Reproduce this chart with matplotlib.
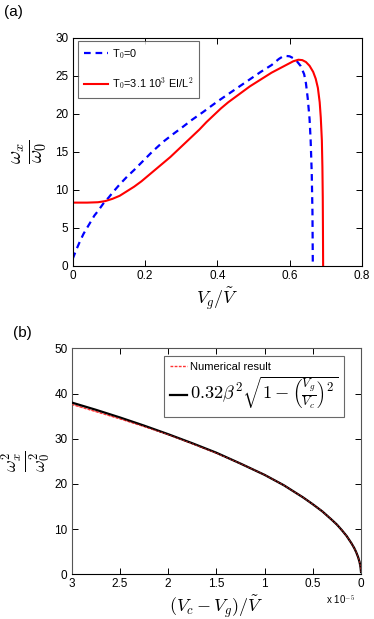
import matplotlib
matplotlib.use("Agg")
import matplotlib.pyplot as plt

plt.rcParams['font.family'] = ['Liberation Sans', 'DejaVu Sans']
plt.rcParams['mathtext.fontset'] = 'cm'

# ---- Panel (a) data ----
vg_blue = [0.0, 0.01, 0.02, 0.03, 0.04, 0.05, 0.06, 0.07, 0.085, 0.10, 0.11, 0.13, 0.15, 0.17,
           0.195, 0.22, 0.25, 0.28, 0.30, 0.33, 0.36, 0.40, 0.44, 0.48, 0.52, 0.55,
           0.57, 0.58, 0.59, 0.60, 0.61, 0.62, 0.63, 0.64, 0.645, 0.65, 0.655, 0.658,
           0.661, 0.663, 0.664]
w_blue = [0.9, 2.1, 3.2, 4.2, 5.0, 5.8, 6.6, 7.2, 8.2, 9.0, 9.6, 10.7, 11.7, 12.6,
          13.8, 15.0, 16.3, 17.4, 18.1, 19.2, 20.2, 21.6, 22.9, 24.2, 25.5, 26.4,
          27.2, 27.5, 27.6, 27.55, 27.3, 26.9, 26.3, 25.2, 24.0, 22.0, 19.3, 16.5,
          12.2, 7.0, 0.0]

vg_red = [0.0, 0.04, 0.07, 0.09, 0.11, 0.13, 0.15, 0.17, 0.19, 0.21, 0.23, 0.25, 0.27,
          0.29, 0.31, 0.33, 0.35, 0.37, 0.39, 0.41, 0.43, 0.45, 0.47, 0.49, 0.51, 0.53,
          0.55, 0.57, 0.59, 0.61, 0.624, 0.635, 0.645, 0.655, 0.665, 0.672, 0.678,
          0.683, 0.686, 0.689, 0.6905, 0.6915, 0.692, 0.6925]
w_red = [8.3, 8.3, 8.35, 8.5, 8.8, 9.2, 9.8, 10.4, 11.1, 11.9, 12.7, 13.5, 14.3,
         15.2, 16.1, 17.0, 17.9, 18.9, 19.8, 20.7, 21.5, 22.2, 22.9, 23.6, 24.2, 24.8,
         25.4, 25.9, 26.4, 26.9, 27.1, 27.05, 26.8, 26.3, 25.5, 24.6, 23.4,
         21.5, 19.5, 16.5, 13.0, 9.0, 5.0, 0.0]

# ---- Panel (b) data (x in units of 1e-5) ----
dv = [3.0, 2.75, 2.5, 2.25, 2.0, 1.75, 1.5, 1.25, 1.0, 0.8, 0.6, 0.5, 0.4, 0.3, 0.25,
      0.2, 0.15, 0.1, 0.07, 0.05, 0.03, 0.015, 0.005, 0.0]
w2_fit = [38.0, 36.4, 34.7, 32.9, 31.0, 29.0, 26.9, 24.5, 22.0, 19.7, 17.0, 15.5, 13.9,
          12.0, 11.0, 9.8, 8.5, 6.9, 5.8, 4.9, 3.8, 2.7, 1.6, 0.5]
w2_num = [37.6, 36.0, 34.4, 32.7, 30.9, 28.9, 26.8, 24.5, 22.0, 19.7, 17.0, 15.5, 13.9,
          12.0, 11.0, 9.8, 8.5, 6.9, 5.8, 4.9, 3.8, 2.7, 1.6, 0.5]

W, H = 374, 619
fig = plt.figure(figsize=(W / 100, H / 100), dpi=100)

def box(l, t, r, b):
    return [l / W, 1 - b / H, (r - l) / W, (b - t) / H]

# ---------- (a) ----------
ax1 = fig.add_axes(box(72.7, 37.7, 362, 265.7))
l1, = ax1.plot(vg_blue, w_blue, color='#0000ff', ls=(0, (3, 2.2)), lw=1.6)
l2, = ax1.plot(vg_red, w_red, color='#ff0000', ls='-', lw=1.5)
ax1.set_xlim(0, 0.8)
ax1.set_ylim(0, 30)
ax1.set_xticks([0, 0.2, 0.4, 0.6, 0.8])
ax1.set_xticklabels(['0', '0.2', '0.4', '0.6', '0.8'])
ax1.set_yticks([0, 5, 10, 15, 20, 25, 30])
ax1.tick_params(direction='in', top=True, right=True, labelsize=8.5, length=4, width=0.7, pad=3)
ax1.set_xlabel(r'$V_g/\tilde{V}$', fontsize=13, labelpad=3)
ax1.set_ylabel(r'$\frac{\omega_x}{\omega_0}$', fontsize=21, labelpad=5)
leg1 = ax1.legend([l1, l2], [r'T$_0$=0', r'T$_0$=3.1 10$^3$ EI/L$^2$'],
                  loc='upper left', bbox_to_anchor=(0.018, 0.985), fontsize=7.8,
                  frameon=True, fancybox=False, edgecolor='#444444', handlelength=2.2,
                  borderpad=0.55, labelspacing=1.4, handletextpad=0.4, borderaxespad=0)
leg1.get_frame().set_linewidth(0.8)
for s in ax1.spines.values():
    s.set_linewidth(0.8)
fig.text(4 / W, 1 - 12 / H, '(a)', fontsize=11, va='center', ha='left')

# ---------- (b) ----------
ax2 = fig.add_axes(box(71.7, 348.3, 361, 574.3))
n1, = ax2.plot(dv, w2_num, color='#ff3333', ls=(0, (2, 1)), lw=1.0, zorder=2)
n2, = ax2.plot(dv, w2_fit, color='black', ls='-', lw=1.6, zorder=3)
ax2.plot(dv, w2_num, color='#ff3333', ls=(0, (2, 1)), lw=0.8, zorder=4, alpha=0.6)
ax2.set_xlim(3, 0)
ax2.set_ylim(0, 50)
ax2.set_xticks([3, 2.5, 2, 1.5, 1, 0.5, 0])
ax2.set_xticklabels(['3', '2.5', '2', '1.5', '1', '0.5', '0'])
ax2.set_yticks([0, 10, 20, 30, 40, 50])
ax2.tick_params(direction='in', top=True, right=True, labelsize=8.5, length=4, width=0.7, pad=3)
ax2.set_xlabel(r'$(V_c-V_g)/\tilde{V}$', fontsize=13, labelpad=2)
ax2.set_ylabel(r'$\frac{\omega_x^2}{\omega_0^2}$', fontsize=18.5, labelpad=2)
leg2 = ax2.legend([n1, n2], ['Numerical result',
                             r'$0.32\beta^2\sqrt{1-\left(\frac{V_g}{V_c}\right)^2}$'],
                  loc='upper right', bbox_to_anchor=(0.941, 0.966), fontsize=8,
                  frameon=True, fancybox=False, edgecolor='#444444', handlelength=1.5,
                  borderpad=0.5, labelspacing=0.3, handletextpad=0.3, borderaxespad=0)
leg2.get_texts()[1].set_fontsize(13.2)
leg2.get_frame().set_linewidth(0.8)
for s in ax2.spines.values():
    s.set_linewidth(0.8)
for k in ['left', 'right', 'top']:
    ax2.spines[k].set_color('#555555')
fig.text(341 / W, 1 - 600 / H, r'x 10$^{-5}$', fontsize=7, ha='center', va='center')
fig.text(13 / W, 1 - 333 / H, '(b)', fontsize=11, va='center', ha='left')

fig.savefig('out.png', dpi=100)
